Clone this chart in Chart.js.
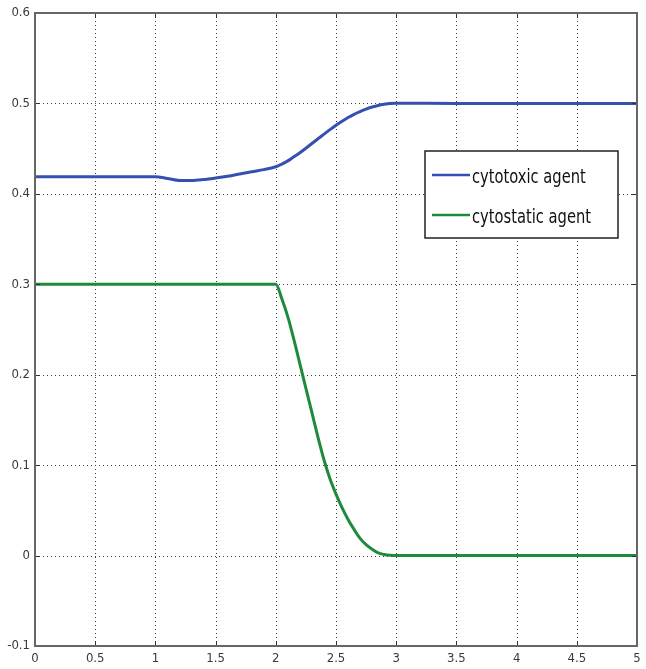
<!DOCTYPE html>
<html>
<head>
<meta charset="utf-8">
<script src="https://cdn.jsdelivr.net/npm/chart.js@4.4.1/dist/chart.umd.min.js"></script>
<style>
  html, body { margin: 0; padding: 0; background: #ffffff; }
  #wrap { width: 646px; height: 669px; position: relative; }
</style>
</head>
<body>
<div id="wrap"><canvas id="c" width="646" height="669"></canvas></div>
<script>
// ---- data ----
const seriesNames = ["cytotoxic agent", "cytostatic agent"];
const timePoints = [0, 0.5, 1.0, 1.1, 1.2, 1.3, 1.4, 1.5, 1.6, 1.7, 1.8, 1.9, 2.0,
  2.05, 2.1, 2.15, 2.2, 2.25, 2.3, 2.35, 2.4, 2.45, 2.5, 2.55, 2.6, 2.65, 2.7,
  2.75, 2.8, 2.85, 2.9, 2.95, 3.0, 3.5, 4.0, 4.5, 5.0];
const cytotoxic = [0.419, 0.419, 0.419, 0.417, 0.4148, 0.4148, 0.4158, 0.4175, 0.4195, 0.422, 0.4245, 0.4268, 0.430,
  0.4328, 0.4365, 0.441, 0.4455, 0.4505, 0.4557, 0.461, 0.466, 0.471, 0.4758, 0.4803, 0.4845, 0.488, 0.491,
  0.4938, 0.496, 0.4978, 0.499, 0.4998, 0.5002, 0.5, 0.5, 0.5, 0.5];
const cytostatic = [0.3, 0.3, 0.3, 0.3, 0.3, 0.3, 0.3, 0.3, 0.3, 0.3, 0.3, 0.3, 0.3,
  0.284, 0.264, 0.239, 0.212, 0.185, 0.158, 0.131, 0.106, 0.085, 0.068, 0.053, 0.040, 0.029, 0.019,
  0.012, 0.007, 0.003, 0.0012, 0.0003, 0, 0, 0, 0, 0];
const xTicks = [0, 0.5, 1, 1.5, 2, 2.5, 3, 3.5, 4, 4.5, 5];
const yTicks = [-0.1, 0, 0.1, 0.2, 0.3, 0.4, 0.5, 0.6];

const colors = ["#3550b0", "#1e8a3e"];
const tickFont = { family: "'Liberation Sans Narrow', 'DejaVu Sans Condensed', 'Roboto Condensed', sans-serif", size: 13 };

function toPoints(xs, ys) { return xs.map((x, i) => ({ x: x, y: ys[i] })); }

// grid, frame, inward ticks and boxed legend
const framePlugin = {
  id: 'framePlugin',
  beforeDatasetsDraw(chart) {
    const { ctx, chartArea: a, scales } = chart;
    ctx.save();
    ctx.strokeStyle = '#3a3a3a';
    ctx.lineWidth = 1;
    ctx.setLineDash([1, 3]);
    xTicks.forEach(v => {
      const px = Math.round(scales.x.getPixelForValue(v)) + 0.5;
      if (px < a.left + 2 || px > a.right - 2) return;
      ctx.beginPath(); ctx.moveTo(px, a.top); ctx.lineTo(px, a.bottom); ctx.stroke();
    });
    yTicks.forEach(v => {
      const py = Math.round(scales.y.getPixelForValue(v)) + 0.5;
      if (py < a.top + 2 || py > a.bottom - 2) return;
      ctx.beginPath(); ctx.moveTo(a.left, py); ctx.lineTo(a.right, py); ctx.stroke();
    });
    ctx.restore();
  },
  afterDraw(chart) {
    const { ctx, chartArea: a, scales } = chart;
    ctx.save();
    // inward tick marks
    ctx.strokeStyle = '#333';
    ctx.lineWidth = 1;
    const tl = 5;
    xTicks.forEach(v => {
      const px = Math.round(scales.x.getPixelForValue(v)) + 0.5;
      ctx.beginPath(); ctx.moveTo(px, a.bottom); ctx.lineTo(px, a.bottom - tl); ctx.stroke();
      ctx.beginPath(); ctx.moveTo(px, a.top); ctx.lineTo(px, a.top + tl); ctx.stroke();
    });
    yTicks.forEach(v => {
      const py = Math.round(scales.y.getPixelForValue(v)) + 0.5;
      ctx.beginPath(); ctx.moveTo(a.left, py); ctx.lineTo(a.left + tl, py); ctx.stroke();
      ctx.beginPath(); ctx.moveTo(a.right, py); ctx.lineTo(a.right - tl, py); ctx.stroke();
    });
    // frame
    ctx.strokeStyle = '#666';
    ctx.lineWidth = 2;
    ctx.strokeRect(a.left, a.top, a.right - a.left, a.bottom - a.top);

    // legend box
    const lx = a.left + 390, ly = a.top + 138, lw = 193, lh = 87;
    ctx.fillStyle = '#ffffff';
    ctx.fillRect(lx, ly, lw, lh);
    ctx.strokeStyle = '#222';
    ctx.lineWidth = 1.5;
    ctx.strokeRect(lx, ly, lw, lh);
    ctx.font = "19px 'Liberation Sans Narrow', 'DejaVu Sans Condensed', sans-serif";
    ctx.textBaseline = 'middle';
    ctx.fillStyle = '#111';
    chart.data.datasets.forEach((ds, i) => {
      const yy = ly + 24 + i * 40;
      ctx.strokeStyle = ds.borderColor;
      ctx.lineWidth = 2.5;
      ctx.beginPath(); ctx.moveTo(lx + 7, yy); ctx.lineTo(lx + 45, yy); ctx.stroke();
      ctx.save();
      ctx.translate(lx + 47, yy + 3);
      ctx.scale(0.86, 1);
      ctx.fillText(ds.label, 0, 0);
      ctx.restore();
    });
    ctx.restore();
  }
};

new Chart(document.getElementById('c'), {
  type: 'line',
  data: {
    datasets: [
      { label: seriesNames[0], data: toPoints(timePoints, cytotoxic), borderColor: colors[0],
        borderWidth: 3, pointRadius: 0, cubicInterpolationMode: 'monotone', fill: false },
      { label: seriesNames[1], data: toPoints(timePoints, cytostatic), borderColor: colors[1],
        borderWidth: 3, pointRadius: 0, cubicInterpolationMode: 'monotone', fill: false }
    ]
  },
  options: {
    responsive: false,
    animation: false,
    layout: { padding: { left: 0, right: 9, top: 13, bottom: 0 } },
    plugins: { legend: { display: false }, tooltip: { enabled: false } },
    scales: {
      x: {
        type: 'linear', min: 0, max: 5,
        afterBuildTicks(scale) { scale.ticks = xTicks.map(v => ({ value: v })); },
        afterFit(scale) { scale.height = 23; },
        grid: { display: false, drawTicks: false },
        border: { display: false },
        ticks: { color: '#3a3a3a', font: tickFont, padding: 5, maxRotation: 0, autoSkip: false,
          callback: v => String(v) }
      },
      y: {
        type: 'linear', min: -0.1, max: 0.6,
        afterBuildTicks(scale) { scale.ticks = yTicks.map(v => ({ value: v })); },
        afterFit(scale) { scale.width = 35; },
        grid: { display: false, drawTicks: false },
        border: { display: false },
        ticks: { color: '#3a3a3a', font: tickFont, padding: 5, autoSkip: false,
          callback: v => String(Math.round(v * 10) / 10) }
      }
    }
  },
  plugins: [framePlugin]
});
</script>
</body>
</html>
